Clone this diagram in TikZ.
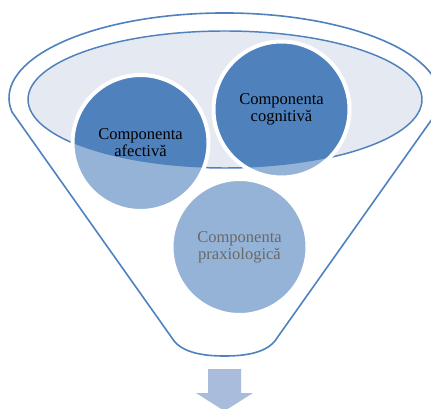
\documentclass[tikz,border=0pt]{standalone}
\usepackage{fontspec}
\setmainfont{Liberation Serif}
\definecolor{dblue}{RGB}{79,129,189}
\definecolor{lblue}{RGB}{149,179,215}
\definecolor{ellfill}{RGB}{228,233,242}
\definecolor{arrowc}{RGB}{170,188,219}
\definecolor{graytext}{RGB}{105,105,105}
\begin{document}
\begin{tikzpicture}[x=0.75pt,y=0.75pt,
  funnel/.style={draw=dblue,line width=1.2pt,line join=round},
  rim/.style={draw=dblue,fill=ellfill,line width=1.1pt},
  comp/.style={circle,minimum size=102pt,inner sep=0pt,fill=lblue,draw=white,line width=3pt,
    path picture={\fill[dblue] (E) ellipse[x radius=197,y radius=68.5];}},
  lbl/.style={align=center,font=\fontsize{12.4}{12.6}\selectfont,text=black},
  lblgray/.style={lbl,text=graytext}]
\useasboundingbox (0,0) rectangle (431,-409);
\clip (0,0) rectangle (431,-409);
% funnel outline
\draw[funnel] (12,-112) arc[start angle=189.5,end angle=-9.5,x radius=215.5,y radius=85]
  -- (277,-338) .. controls (268,-353) and (245,-356) .. (224.5,-356)
  .. controls (204,-356) and (181,-353) .. (172,-338) -- cycle;
% inner rim
\coordinate (E) at (225,-99.5);
\draw[rim] (E) ellipse[x radius=197,y radius=68.5];
% components
\node[comp] (aff) at (140.5,-143) {};
\node[comp] (cog) at (281.5,-109.5) {};
\node[comp,path picture={}] (prax) at (239.5,-247) {};
\node[lbl] (affT) at (aff.center) {Componenta\\afectivă};
\node[lbl] (cogT) at (cog.center) {Componenta\\cognitivă};
\node[lblgray] (praxT) at (prax.center) {Componenta\\praxiologică};
% arrow
\fill[arrowc] (208,-369) -- (241,-369) -- (241,-393) -- (253,-393) -- (224.5,-411)
  -- (196,-393) -- (208,-393) -- cycle;
\end{tikzpicture}
\end{document}
